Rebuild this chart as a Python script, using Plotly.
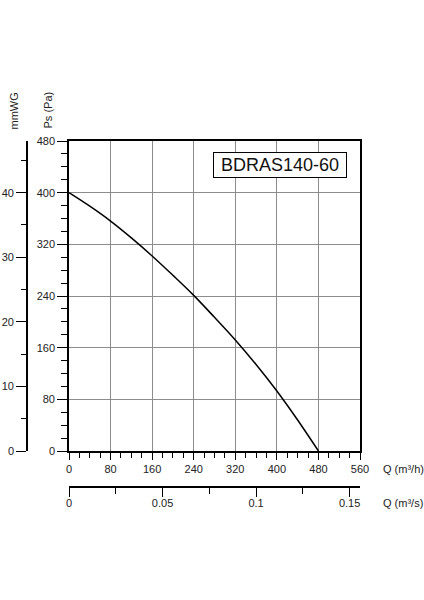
import plotly.graph_objects as go

# fan curve BDRAS140-60
q_m3h = [0, 40, 80, 120, 160, 200, 240, 280, 320, 360, 400, 440, 480]
ps_pa = [400, 379, 356, 330, 302, 272, 241, 207, 172, 134, 93, 48, 0]

x_ticks = [0, 80, 160, 240, 320, 400, 480, 560]
y_ticks = [0, 80, 160, 240, 320, 400, 480]
mmwg_ticks = [0, 10, 20, 30, 40]
q_m3s_ticks = [0, 0.05, 0.1, 0.15]
q_m3s_labels = ["0", "0.05", "0.1", "0.15"]

model = "BDRAS140-60"

FONT = "Liberation Sans, Arial, sans-serif"
tickfont = dict(family=FONT, size=11, color="#222")

L, T, R, B = 20, 141, 64, 80
W, H = 424 - L - R, 600 - T - B
def px(x):
    return (x - L) / W
def py(y):
    return (T + H - y) / H

fig = go.Figure()
fig.add_trace(go.Scatter(x=q_m3h, y=ps_pa, mode="lines",
                         line=dict(color="black", width=1.5, shape="spline"),
                         hoverinfo="skip", showlegend=False))
# invisible traces so the extra axes get drawn
fig.add_trace(go.Scatter(x=[q / 3600 for q in q_m3h], y=ps_pa, xaxis="x2", yaxis="y",
                         mode="markers", marker=dict(opacity=0), hoverinfo="skip",
                         showlegend=False))
fig.add_trace(go.Scatter(x=q_m3h, y=[p / 10 for p in ps_pa], xaxis="x", yaxis="y2",
                         mode="markers", marker=dict(opacity=0), hoverinfo="skip",
                         showlegend=False))

tick_style = dict(ticks="outside", tickwidth=1.3, tickcolor="black")
fig.update_layout(
    width=424, height=600,
    margin=dict(l=L, r=R, t=T, b=B, autoexpand=False),
    paper_bgcolor="white", plot_bgcolor="white",
    showlegend=False,
    xaxis=dict(domain=[px(69), 1], range=[0, 560], tickvals=x_ticks,
               showgrid=True, gridcolor="#8c8c8c", gridwidth=1.3, zeroline=False,
               showline=True, linecolor="black", linewidth=1.6, mirror=True,
               ticklen=7, **tick_style,
               minor=dict(dtick=20, ticklen=5, showgrid=False, **tick_style),
               tickfont=tickfont, anchor="y", automargin=False),
    yaxis=dict(domain=[py(451), 1], range=[0, 480], tickvals=y_ticks,
               showgrid=True, gridcolor="#8c8c8c", gridwidth=1.3, zeroline=False,
               showline=True, linecolor="black", linewidth=1.6, mirror=True,
               ticklen=10, ticklabelstandoff=0, **tick_style,
               minor=dict(dtick=20, ticklen=6, showgrid=False, **tick_style),
               tickfont=tickfont, anchor="x", automargin=False),
    xaxis2=dict(overlaying="x", anchor="free", position=py(487), side="bottom",
                range=[0, 560 / 3600], tickvals=q_m3s_ticks, ticktext=q_m3s_labels,
                showgrid=False, zeroline=False,
                showline=True, linecolor="black", linewidth=1.6,
                ticklen=9, ticklabelstandoff=-3, **tick_style,
                minor=dict(dtick=0.025, ticklen=6, showgrid=False, **tick_style),
                tickfont=tickfont, automargin=False),
    yaxis2=dict(overlaying="y", anchor="free", position=px(27), side="left",
                range=[0, 48], tickvals=mmwg_ticks,
                showgrid=False, zeroline=False,
                showline=True, linecolor="black", linewidth=1.6,
                ticklen=10, ticklabelstandoff=0, **tick_style,
                minor=dict(dtick=5, ticklen=5, showgrid=False, **tick_style),
                tickfont=tickfont, automargin=False),
)

ann_font = dict(family=FONT, size=11, color="#222")
fig.add_annotation(x=px(47.5), y=py(110), xref="paper", yref="paper", text="Ps (Pa)",
                   xanchor="center", yanchor="middle",
                   textangle=-90, showarrow=False, font=ann_font)
fig.add_annotation(x=px(13.5), y=py(111), xref="paper", yref="paper", text="mmWG",
                   xanchor="center", yanchor="middle",
                   textangle=-90, showarrow=False, font=ann_font)
fig.add_annotation(x=px(381), y=py(469), xref="paper", yref="paper", text="Q (m³/h)",
                   xanchor="left", yanchor="middle", showarrow=False, font=ann_font)
fig.add_annotation(x=px(381), y=py(503), xref="paper", yref="paper", text="Q (m³/s)",
                   xanchor="left", yanchor="middle", showarrow=False, font=ann_font)
fig.add_annotation(x=px(280), y=py(165), xref="paper", yref="paper",
                   text="\u00a0" + model + "\u00a0",
                   xanchor="center", yanchor="middle",
                   showarrow=False, bgcolor="white", bordercolor="black", borderwidth=1,
                   borderpad=2, font=dict(family=FONT, size=18, color="#111"))

# drop the browser's default 8px body margin so the 424x600 figure fills the window
fig.write_html("out.html", config={"displayModeBar": False},
               post_script="document.body.style.margin='0';")
